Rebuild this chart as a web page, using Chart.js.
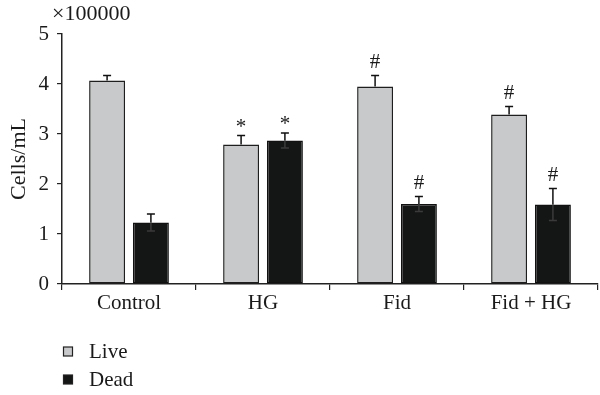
<!DOCTYPE html>
<html>
<head>
<meta charset="utf-8">
<script src="https://cdn.jsdelivr.net/npm/chart.js@4.4.1/dist/chart.umd.min.js"></script>
<style>
  html, body { margin: 0; padding: 0; background: #fff; }
  #wrap { width: 600px; height: 395px; position: relative; }
</style>
</head>
<body>
<div id="wrap"><canvas id="c" width="600" height="395"></canvas></div>
<script>
const categories = ["Control", "HG", "Fid", "Fid + HG"];
const liveValues = [4.07, 2.79, 3.95, 3.39];
const liveErrors = [0.10, 0.18, 0.22, 0.16];
const deadValues = [1.23, 2.87, 1.60, 1.59];
const deadErrors = [0.17, 0.15, 0.15, 0.32];
const liveMarks = ["", "*", "#", "#"];
const deadMarks = ["", "*", "#", "#"];
const yTicks = [0, 1, 2, 3, 4, 5];
const yUnit = "×100000";
const yTitle = "Cells/mL";

const FONT = "'Liberation Serif', 'DejaVu Serif', serif";
const TXT = '#1a1a1a';

const errorBarPlugin = {
  id: 'errorBars',
  afterDatasetsDraw(chart) {
    const ctx = chart.ctx;
    const y = chart.scales.y;
    chart.data.datasets.forEach((ds, di) => {
      const meta = chart.getDatasetMeta(di);
      meta.data.forEach((el, i) => {
        const v = ds.data[i], e = ds.errors[i];
        const top = y.getPixelForValue(v + e);
        const bot = y.getPixelForValue(v - e);
        ctx.save();
        ctx.strokeStyle = '#111';
        ctx.lineWidth = 1.5;
        ctx.beginPath();
        ctx.moveTo(el.x, el.y);
        ctx.lineTo(el.x, top);
        ctx.moveTo(el.x - 4, top);
        ctx.lineTo(el.x + 4, top);
        ctx.stroke();
        if (ds.lowerWhisker) {
          ctx.strokeStyle = '#3a3a3a';
          ctx.beginPath();
          ctx.moveTo(el.x, el.y);
          ctx.lineTo(el.x, bot);
          ctx.moveTo(el.x - 4, bot);
          ctx.lineTo(el.x + 4, bot);
          ctx.stroke();
        }
        const m = ds.marks[i];
        if (m) {
          ctx.fillStyle = TXT;
          ctx.font = '21px ' + FONT;
          ctx.textAlign = 'center';
          ctx.textBaseline = 'alphabetic';
          const off = m === '*' ? 3 : 8;
          ctx.fillText(m, el.x, top - off);
        }
        ctx.restore();
      });
    });
  }
};

const extrasPlugin = {
  id: 'extras',
  afterDraw(chart) {
    const ctx = chart.ctx;
    const area = chart.chartArea;
    ctx.save();
    ctx.fillStyle = TXT;
    ctx.font = '22px ' + FONT;
    ctx.textAlign = 'left';
    ctx.textBaseline = 'alphabetic';
    ctx.fillText(yUnit, area.left - 10, 20);
    ctx.font = '21px ' + FONT;
    chart.data.datasets.forEach((ds, i) => {
      const cy = 351.5 + i * 28;
      ctx.fillStyle = ds.backgroundColor;
      ctx.strokeStyle = '#222';
      ctx.lineWidth = 1.2;
      ctx.fillRect(63.5, cy - 4.5, 9, 9);
      ctx.strokeRect(63.5, cy - 4.5, 9, 9);
      ctx.fillStyle = TXT;
      ctx.textBaseline = 'middle';
      ctx.fillText(ds.label, 89, cy + 1);
    });
    ctx.restore();
  }
};

new Chart(document.getElementById('c'), {
  type: 'bar',
  data: {
    labels: categories,
    datasets: [
      { label: 'Live', data: liveValues, errors: liveErrors, marks: liveMarks, lowerWhisker: false,
        backgroundColor: '#c8c9ca', borderColor: '#1e1e1e', borderWidth: 1.5, borderSkipped: false },
      { label: 'Dead', data: deadValues, errors: deadErrors, marks: deadMarks, lowerWhisker: true,
        backgroundColor: '#141615', borderColor: '#111', borderWidth: 1.5, borderSkipped: false }
    ]
  },
  options: {
    responsive: false,
    animation: false,
    events: [],
    categoryPercentage: 0.654,
    barPercentage: 0.82,
    layout: { padding: { left: 0, right: 2, top: 34, bottom: 70 } },
    plugins: { legend: { display: false }, tooltip: { enabled: false } },
    scales: {
      x: {
        grid: { display: true, drawOnChartArea: false, drawTicks: true, tickLength: 6, color: '#222', lineWidth: 1.2, offset: true },
        border: { display: true, color: '#222', width: 1.5 },
        ticks: { color: TXT, font: { family: FONT, size: 21 }, padding: 1 },
        afterFit(s) { s.height = 41; }
      },
      y: {
        min: 0, max: 5,
        afterBuildTicks(s) { s.ticks = yTicks.map(v => ({ value: v })); },
        grid: { display: true, drawOnChartArea: false, drawTicks: true, tickLength: 5, color: '#222', lineWidth: 1.2 },
        border: { display: true, color: '#222', width: 1.5 },
        ticks: { color: TXT, font: { family: FONT, size: 21 }, padding: 8 },
        title: { display: true, text: yTitle, color: TXT, font: { family: FONT, size: 22 }, padding: { top: 6, bottom: 4 } },
        afterFit(s) { s.width = 62; }
      }
    }
  },
  plugins: [errorBarPlugin, extrasPlugin]
});
</script>
</body>
</html>
